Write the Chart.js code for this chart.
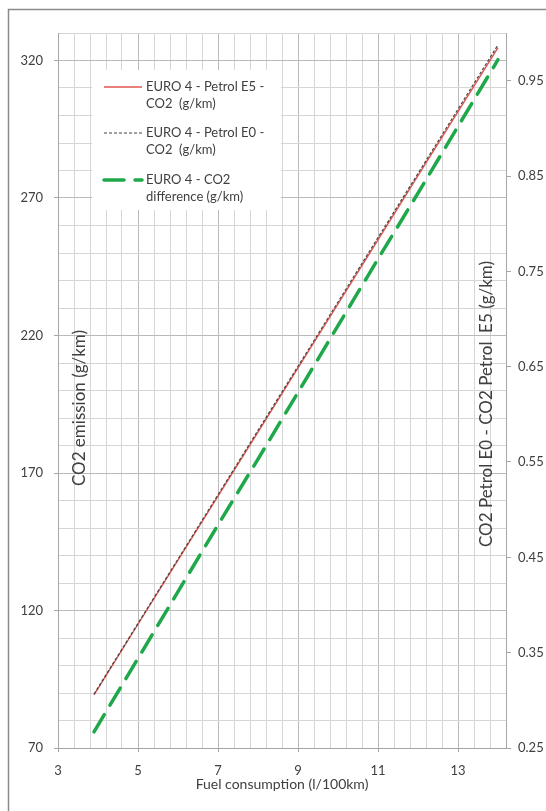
<!DOCTYPE html>
<html><head><meta charset="utf-8">
<script src="https://cdn.jsdelivr.net/npm/chart.js@4.4.0/dist/chart.umd.min.js"></script>
<style>html,body{margin:0;padding:0;background:#fff;}#wrap{width:546px;height:811px;position:relative;}</style>
</head><body><div id="wrap"><canvas id="c" width="546" height="811"></canvas></div>
<script>
// ---- data ----
const fuel    = [3.9, 5, 6, 7, 8, 9, 10, 11, 12, 13, 14];
const co2E5   = [89.3, 115.0, 138.3, 161.6, 184.9, 208.2, 231.5, 254.8, 278.1, 301.4, 324.7];
const co2E0   = [89.6, 115.3, 138.7, 162.1, 185.5, 208.8, 232.2, 255.6, 278.9, 302.3, 325.7];
const co2Diff = [0.267, 0.344, 0.414, 0.484, 0.553, 0.623, 0.693, 0.763, 0.832, 0.902, 0.972];
const xTickLabels      = [3, 5, 7, 9, 11, 13];
const yLeftTickLabels  = [70, 120, 170, 220, 270, 320];
const yRightTickLabels = [0.25, 0.35, 0.45, 0.55, 0.65, 0.75, 0.85, 0.95];
const seriesNames = [
  ["EURO 4 - Petrol E5 -", "CO2  (g/km)"],
  ["EURO 4 - Petrol E0 -", "CO2  (g/km)"],
  ["EURO 4 - CO2", "difference (g/km)"]
];
const xTitle = "Fuel consumption (l/100km)";
const yLeftTitle = "CO2 emission (g/km)";
const yRightTitle = "CO2 Petrol E0 - CO2 Petrol  E5 (g/km)";

// ---- styling ----
const FONT = "Lato, 'Open Sans', sans-serif";
const TXT = '#404040';
const MINOR = '#d6d6d6', MAJOR = '#bababa', AXIS = '#a6a6a6';
const RED = '#e0544e', GRAY = '#444444', GREEN = '#1fa84a';

function pts(ys){ return fuel.map((x,i)=>({x:x,y:ys[i]})); }
function near(v, arr){ return arr.some(a=>Math.abs(a-v)<1e-6); }
function range(a,b,s){ const r=[]; const n=Math.round((b-a)/s); for(let k=0;k<=n;k++) r.push(+(a+k*s).toFixed(6)); return r; }

const decor = {
  id:'decor',
  beforeDraw(chart){
    const c = chart.ctx;
    c.save();
    c.fillStyle='#fff'; c.fillRect(0,0,chart.width,chart.height);
    c.strokeStyle='#8a8a8a'; c.lineWidth=1.5;
    c.strokeRect(8.5,9.5,chart.width+20,chart.height+20);
    c.restore();
  },
  afterDraw(chart){
    const c = chart.ctx, a = chart.chartArea;
    c.save();
    // legend box
    const lx=92, ly=70, lw=189, lh=140;
    c.fillStyle='#fff'; c.fillRect(lx,ly,lw,lh);
    const ds = chart.data.datasets;
    const rows = [87, 133, 180];
    c.font = "13px " + FONT; c.fillStyle = TXT; c.textBaseline='middle'; c.textAlign='left';
    rows.forEach((y,i)=>{
      const d = ds[i];
      c.beginPath();
      c.strokeStyle = d.borderColor; c.lineWidth = d.borderWidth;
      c.setLineDash(d.borderDash || []);
      c.lineCap = d.borderCapStyle || 'butt';
      c.moveTo(104, y); c.lineTo(142, y); c.stroke();
      c.setLineDash([]);
      c.fillStyle = TXT;
      c.fillText(seriesNames[i][0], 146, y);
      c.fillText(seriesNames[i][1], 146, y+17);
    });
    // axis titles
    c.fillStyle = TXT; c.textAlign='center'; c.textBaseline='middle';
    c.font = "14px " + FONT;
    c.fillText(xTitle, (a.left+a.right)/2, 784);
    c.font = "17px " + FONT;
    c.save(); c.translate(80, 408); c.rotate(-Math.PI/2); c.fillText(yLeftTitle,0,0); c.restore();
    c.save(); c.translate(487, 404); c.rotate(-Math.PI/2); c.fillText(yRightTitle,0,0); c.restore();
    c.restore();
  }
};

new Chart(document.getElementById('c'), {
  type:'line',
  data:{ datasets:[
    {label:seriesNames[0].join(' '), data:pts(co2E5), yAxisID:'y', order:2, borderColor:RED, borderWidth:1.4, pointRadius:0, tension:0, fill:false},
    {label:seriesNames[1].join(' '), data:pts(co2E0), yAxisID:'y', order:1, borderColor:GRAY, borderWidth:1.2, borderDash:[3,2], pointRadius:0, tension:0, fill:false},
    {label:seriesNames[2].join(' '), data:pts(co2Diff), yAxisID:'y2', order:3, borderColor:GREEN, borderWidth:3.5, borderDash:[20,11], borderCapStyle:'round', pointRadius:0, tension:0, fill:false}
  ]},
  options:{
    responsive:false, animation:false, devicePixelRatio:1,
    layout:{padding:{top:33,left:0,right:0,bottom:0}},
    plugins:{legend:{display:false}, tooltip:{enabled:false}},
    scales:{
      x:{ type:'linear', min:3, max:14.2,
        afterBuildTicks:s=>{ s.ticks = range(3,14.2,0.4).map(v=>({value:v})); },
        afterFit:s=>{ s.height = 63; },
        ticks:{ autoSkip:false, maxRotation:0, padding:11, color:TXT, font:{family:FONT,size:13},
          callback:v=> near(v,xTickLabels) ? String(Math.round(v)) : '' },
        grid:{ color:ctx=> near(ctx.tick.value,xTickLabels)?MAJOR:MINOR, lineWidth:1, tickLength:4,
          tickColor:ctx=> near(ctx.tick.value,xTickLabels)?AXIS:'rgba(0,0,0,0)' },
        border:{ color:AXIS }
      },
      y:{ type:'linear', position:'left', min:70, max:330,
        afterBuildTicks:s=>{ s.ticks = range(70,330,10).map(v=>({value:v})); },
        afterFit:s=>{ s.width = 58; },
        ticks:{ autoSkip:false, padding:11, color:TXT, font:{family:FONT,size:13},
          callback:v=> near(v,yLeftTickLabels) ? String(Math.round(v)) : '' },
        grid:{ color:ctx=> near(ctx.tick.value,yLeftTickLabels)?MAJOR:MINOR, lineWidth:1, tickLength:4,
          tickColor:ctx=> near(ctx.tick.value,yLeftTickLabels)?AXIS:'rgba(0,0,0,0)' },
        border:{ color:AXIS }
      },
      y2:{ type:'linear', position:'right', min:0.25, max:1.0,
        afterBuildTicks:s=>{ s.ticks = yRightTickLabels.map(v=>({value:v})); },
        afterFit:s=>{ s.width = 40; },
        ticks:{ autoSkip:false, padding:7, color:TXT, font:{family:FONT,size:13},
          callback:v=> v.toFixed(2) },
        grid:{ drawOnChartArea:false, tickLength:5, tickColor:AXIS },
        border:{ color:AXIS }
      }
    }
  },
  plugins:[decor]
});
</script></body></html>
